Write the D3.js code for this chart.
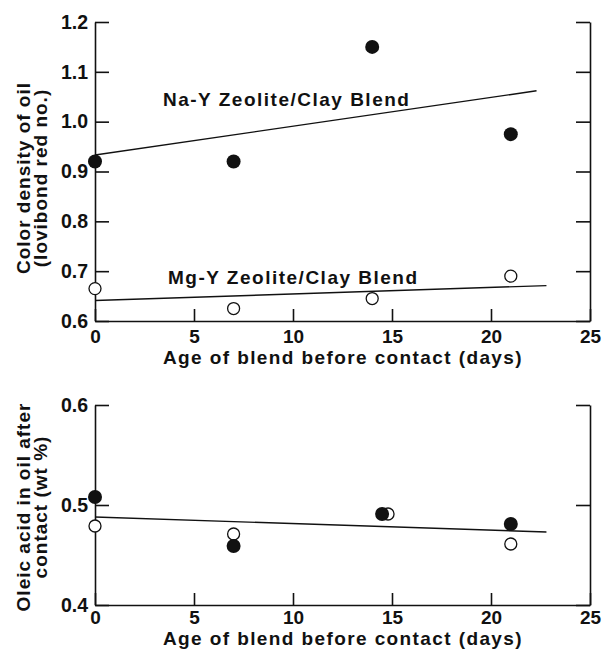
<!DOCTYPE html>
<html>
<head>
<meta charset="utf-8">
<script src="https://cdn.jsdelivr.net/npm/d3@7"></script>
<style>
  body { margin: 0; background: #fff; }
  text { font-family: "Liberation Sans", Arial, sans-serif; font-weight: bold; fill: #111; }
</style>
</head>
<body>
<div id="chart"></div>
<script>
// ---- data ----
const days = [0, 7, 14, 21];
const naColor = [0.92, 0.92, 1.15, 0.975];
const mgColor = [0.665, 0.625, 0.645, 0.69];
const naColorLine = [[0, 0.933], [22.3, 1.062]];
const mgColorLine = [[0, 0.641], [22.8, 0.671]];

const daysOleicNa = [0, 7, 14.5, 21];
const daysOleicMg = [0, 7, 14.8, 21];
const naOleic = [0.508, 0.459, 0.491, 0.481];
const mgOleic = [0.479, 0.471, 0.491, 0.461];
const oleicLine = [[0, 0.488], [22.8, 0.473]];

const xTicks = [0, 5, 10, 15, 20, 25];
const colorTicks = [0.6, 0.7, 0.8, 0.9, 1.0, 1.1, 1.2];
const oleicTicks = [0.4, 0.5, 0.6];

const W = 603, H = 653;
const svg = d3.select("#chart").append("svg")
  .attr("width", W).attr("height", H);

const x = d3.scaleLinear().domain([0, 25]).range([95, 590]);
const yTop = d3.scaleLinear().domain([0.6, 1.2]).range([321, 22]);
const yBot = d3.scaleLinear().domain([0.4, 0.6]).range([605, 405]);

function panel(y, yTicks, bottomY, tickPad, titleOff, titleLines, titleMidY) {
  const g = svg.append("g");

  // bottom axis, ticks pointing up
  g.append("g")
    .attr("transform", `translate(0,${bottomY})`)
    .call(d3.axisBottom(x).tickValues(xTicks).tickSize(-12).tickSizeOuter(0).tickPadding(tickPad))
    .call(a => a.selectAll("text").style("font-size", "19px"));

  // left axis, ticks pointing right
  g.append("g")
    .attr("transform", `translate(${x(0)},0)`)
    .call(d3.axisLeft(y).tickValues(yTicks).tickFormat(d3.format(".1f")).tickSize(-14).tickSizeOuter(0).tickPadding(7))
    .call(a => a.selectAll("text").style("font-size", "19.5px"));

  // right axis, ticks pointing left, no labels
  g.append("g")
    .attr("transform", `translate(${x(25)},0)`)
    .call(d3.axisRight(y).tickValues(yTicks).tickFormat("").tickSize(-14).tickSizeOuter(0));

  g.selectAll(".domain, .tick line").attr("stroke", "#111").attr("stroke-width", 1.6);

  // x title
  g.append("text")
    .attr("x", 343).attr("y", bottomY + titleOff)
    .attr("text-anchor", "middle")
    .style("font-size", "19px").style("letter-spacing", "1.4px")
    .text("Age of blend before contact (days)");

  // y title (two lines)
  const yt = g.append("text")
    .attr("transform", `translate(30,${titleMidY}) rotate(-90)`)
    .attr("text-anchor", "middle")
    .style("font-size", "19px").style("letter-spacing", "1px");
  titleLines.forEach((t, i) => {
    yt.append("tspan").attr("x", 0).attr("dy", i === 0 ? "0" : "0.92em").text(t);
  });
  return g;
}

const line = (y) => d3.line().x(d => x(d[0])).y(d => y(d[1]));

// ---- top panel: color density ----
const topPanel = panel(yTop, colorTicks, 321, 9, 43,
  ["Color density of oil", "(lovibond red no.)"], 178);

topPanel.append("path").datum(naColorLine).attr("d", line(yTop))
  .attr("fill", "none").attr("stroke", "#111").attr("stroke-width", 1.4);
topPanel.append("path").datum(mgColorLine).attr("d", line(yTop))
  .attr("fill", "none").attr("stroke", "#111").attr("stroke-width", 1.4);

topPanel.selectAll(".na").data(days.map((d, i) => [d, naColor[i]])).join("circle")
  .attr("cx", d => x(d[0])).attr("cy", d => yTop(d[1])).attr("r", 7)
  .attr("fill", "#111");
topPanel.selectAll(".mg").data(days.map((d, i) => [d, mgColor[i]])).join("circle")
  .attr("cx", d => x(d[0])).attr("cy", d => yTop(d[1])).attr("r", 6)
  .attr("fill", "#fff").attr("stroke", "#111").attr("stroke-width", 1.3);

topPanel.append("text").attr("x", 163).attr("y", 106)
  .style("font-size", "19px").style("letter-spacing", "1.5px")
  .text("Na-Y Zeolite/Clay Blend");
topPanel.append("text").attr("x", 168).attr("y", 284)
  .style("font-size", "19px").style("letter-spacing", "1.5px")
  .text("Mg-Y Zeolite/Clay Blend");

// ---- bottom panel: oleic acid ----
const botPanel = panel(yBot, oleicTicks, 605, 6, 40,
  ["Oleic acid in oil after", "contact (wt %)"], 507);

botPanel.append("path").datum(oleicLine).attr("d", line(yBot))
  .attr("fill", "none").attr("stroke", "#111").attr("stroke-width", 1.4);

botPanel.selectAll(".mg").data(daysOleicMg.map((d, i) => [d, mgOleic[i]])).join("circle")
  .attr("cx", d => x(d[0])).attr("cy", d => yBot(d[1])).attr("r", 6)
  .attr("fill", "#fff").attr("stroke", "#111").attr("stroke-width", 1.3);
botPanel.selectAll(".na").data(daysOleicNa.map((d, i) => [d, naOleic[i]])).join("circle")
  .attr("cx", d => x(d[0])).attr("cy", d => yBot(d[1])).attr("r", 7)
  .attr("fill", "#111");
</script>
</body>
</html>
